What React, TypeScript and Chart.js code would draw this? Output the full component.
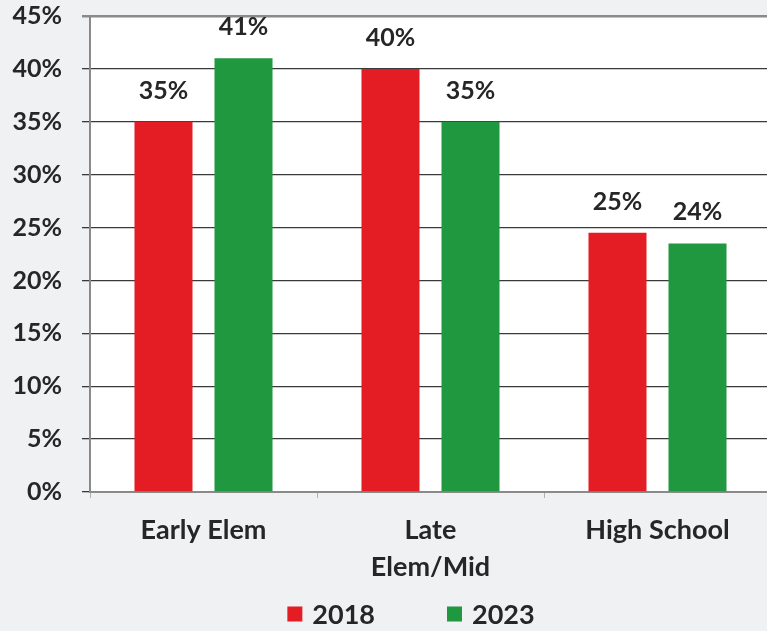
import { useEffect, useRef } from "react";
import { Chart, registerables } from "chart.js";

Chart.register(...registerables);

// Grade bands on the x axis (multi-line labels as arrays)
const categories: string[][] = [["Early Elem"], ["Late", "Elem/Mid"], ["High School"]];
const seriesNames = ["2018", "2023"];
const values2018 = [35, 40, 24.5];
const values2023 = [41, 35, 23.5];
const yTickMax = 45;
const yTickStep = 5;

const RED = "#e41c24";
const GREEN = "#1f9840";
const TEXT = "#262626";
const PAGE_BG = "#eff1f3";
const FONT = "Lato, 'Open Sans', sans-serif";

const CANVAS_W = 822;
const CANVAS_H = 631;
const PLOT_TOP = 16;

// Gray page with a white plot area
const backgroundPlugin = {
  id: "plotBackground",
  beforeDraw(chart: Chart) {
    const { ctx, chartArea } = chart;
    ctx.save();
    ctx.fillStyle = PAGE_BG;
    ctx.fillRect(0, 0, chart.width, chart.height);
    ctx.fillStyle = "#ffffff";
    ctx.fillRect(chartArea.left, chartArea.top, chartArea.right - chartArea.left, chartArea.bottom - chartArea.top);
    ctx.restore();
  },
};

// Percent labels above each bar
const valueLabelPlugin = {
  id: "valueLabels",
  afterDatasetsDraw(chart: Chart) {
    const { ctx } = chart;
    ctx.save();
    ctx.font = `bold 25px ${FONT}`;
    ctx.fillStyle = TEXT;
    ctx.textAlign = "center";
    ctx.textBaseline = "middle";
    chart.data.datasets.forEach((ds, di) => {
      const meta = chart.getDatasetMeta(di);
      meta.data.forEach((bar: any, i: number) => {
        const v = ds.data[i] as number;
        ctx.fillText(`${Math.round(v)}%`, bar.x, bar.y - 31);
      });
    });
    ctx.restore();
  },
};

// Legend row along the bottom
const legendPlugin = {
  id: "bottomLegend",
  afterDraw(chart: Chart) {
    const { ctx } = chart;
    const box = 15;
    const boxGap = 10;
    const itemGap = 72;
    const cy = 614;
    ctx.save();
    ctx.font = `bold 27px ${FONT}`;
    ctx.textBaseline = "middle";
    ctx.textAlign = "left";
    const items = chart.data.datasets.map((ds) => ({
      label: ds.label as string,
      color: ds.backgroundColor as string,
      w: ctx.measureText(ds.label as string).width,
    }));
    const total =
      items.reduce((s, it) => s + box + boxGap + it.w, 0) + itemGap * (items.length - 1);
    let x = chart.width / 2 - total / 2;
    items.forEach((it) => {
      ctx.fillStyle = it.color;
      ctx.fillRect(x, cy - box / 2, box, box);
      x += box + boxGap;
      ctx.fillStyle = TEXT;
      ctx.fillText(it.label, x, cy + 1);
      x += it.w + itemGap;
    });
    ctx.restore();
  },
};

export default function App() {
  const canvasRef = useRef<HTMLCanvasElement | null>(null);

  useEffect(() => {
    if (!canvasRef.current) return;
    const chart = new Chart(canvasRef.current, {
      type: "bar",
      data: {
        labels: categories,
        datasets: [
          { label: seriesNames[0], data: values2018, backgroundColor: RED },
          { label: seriesNames[1], data: values2023, backgroundColor: GREEN },
        ],
      },
      options: {
        responsive: false,
        animation: false,
        events: [],
        layout: { padding: { top: 0, right: 51, bottom: 40, left: 0 } },
        datasets: {
          bar: { categoryPercentage: 0.705, barPercentage: 0.725 },
        },
        plugins: {
          legend: { display: false },
          tooltip: { enabled: false },
        },
        scales: {
          x: {
            afterFit(scale: any) {
              scale.height = 99;
            },
            grid: {
              drawOnChartArea: false,
              offset: true,
              tickLength: 6,
              color: "#b0b0b0",
            },
            border: { color: "#8a8a8a", width: 2 },
            ticks: {
              padding: 13,
              maxRotation: 0,
              color: TEXT,
              font: { family: FONT, size: 27, weight: "bold", lineHeight: 1.4 },
            },
          },
          y: {
            min: 0,
            max: yTickMax,
            afterFit(scale: any) {
              scale.width = 90;
              scale.paddingTop = 0;
              scale.paddingBottom = 0;
            },
            grid: {
              // the top line doubles as the plot frame
              color: (c: any) => (c.tick && c.tick.value === yTickMax ? "#8a8a8a" : "#3a3a3a"),
              lineWidth: (c: any) => (c.tick && c.tick.value === yTickMax ? 2.5 : 1.3),
              tickLength: 8,
            },
            border: { color: "#8a8a8a", width: 2 },
            ticks: {
              stepSize: yTickStep,
              padding: 20,
              color: TEXT,
              font: { family: FONT, size: 25, weight: "bold" },
              callback: (v: any) => `${v}%`,
            },
          },
        },
      },
      plugins: [backgroundPlugin, valueLabelPlugin, legendPlugin],
    });
    // Pin the top of the plot area to the intended position
    const shift = chart.chartArea.top - PLOT_TOP;
    if (Math.abs(shift) > 0.5) {
      const layout: any = chart.config.options!.layout;
      layout.padding = { ...layout.padding, top: layout.padding.top - shift };
      chart.update();
    }
    return () => chart.destroy();
  }, []);

  return (
    <div
      style={{
        position: "absolute",
        left: 0,
        top: 0,
        width: 767,
        height: 631,
        overflow: "hidden",
        background: PAGE_BG,
      }}
    >
      <canvas ref={canvasRef} width={CANVAS_W} height={CANVAS_H} style={{ display: "block" }} />
    </div>
  );
}
